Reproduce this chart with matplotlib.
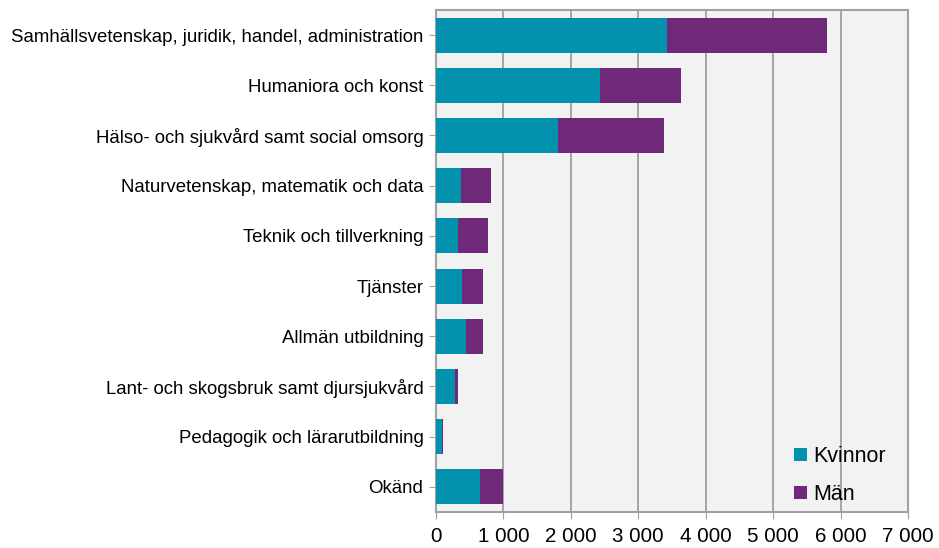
import matplotlib.pyplot as plt
from matplotlib.ticker import FuncFormatter

plt.rcParams['font.family'] = ['Liberation Sans', 'DejaVu Sans']

categories = ['Samhällsvetenskap, juridik, handel, administration',
              'Humaniora och konst',
              'Hälso- och sjukvård samt social omsorg',
              'Naturvetenskap, matematik och data',
              'Teknik och tillverkning',
              'Tjänster',
              'Allmän utbildning',
              'Lant- och skogsbruk samt djursjukvård',
              'Pedagogik och lärarutbildning',
              'Okänd']
kvinnor = [3420, 2430, 1810, 370, 330, 380, 440, 280, 85, 650]
man = [2385, 1200, 1570, 440, 435, 320, 260, 50, 15, 350]

teal = '#0392ae'
purple = '#702878'

fig = plt.figure(figsize=(9.39, 5.48), dpi=100)
ax = fig.add_axes([0.4643, 0.0657, 0.5027, 0.9161])
ax.set_facecolor('#f2f2f2')

y = list(range(len(categories)))
ax.barh(y, kvinnor, height=0.7, color=teal, label='Kvinnor', zorder=3)
ax.barh(y, man, left=kvinnor, height=0.7, color=purple, label='Män', zorder=3)

ax.set_yticks(y)
ax.set_yticklabels(categories, fontsize=13.4)
ax.set_ylim(len(categories) - 0.5, -0.5)
ax.set_xlim(0, 7000)
ax.set_xticks(range(0, 7001, 1000))
ax.xaxis.set_major_formatter(FuncFormatter(lambda v, p: f'{int(v):,}'.replace(',', ' ')))
ax.tick_params(axis='x', labelsize=14.8, length=5, color='#a0a0a0', pad=6)
ax.tick_params(axis='y', length=5, color='#a0a0a0', pad=4)
ax.grid(axis='x', color='#a0a0a0', linewidth=1.3, zorder=1)
for s in ax.spines.values():
    s.set_color('#a0a0a0')
    s.set_linewidth(1.5)

ax.legend(loc='lower right', bbox_to_anchor=(0.995, -0.025), frameon=False, fontsize=15.5,
          handlelength=0.6, handleheight=0.6, handletextpad=0.3, labelspacing=0.8)

fig.savefig('out.png', dpi=100)
